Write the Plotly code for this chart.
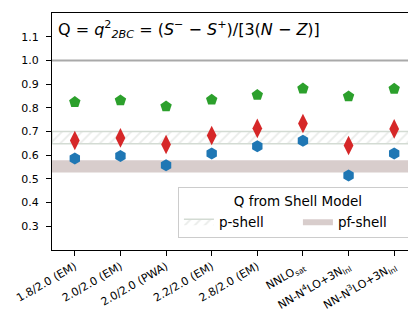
import plotly.graph_objects as go

categories = ["1.8/2.0 (EM)", "2.0/2.0 (EM)", "2.0/2.0 (PWA)", "2.2/2.0 (EM)", "2.8/2.0 (EM)",
              "NNLO<sub>sat</sub>", "NN-N<sup>4</sup>LO+3N<sub>lnl</sub>", "NN-N<sup>3</sup>LO+3N<sub>lnl</sub>"]
green_vals = [0.824, 0.831, 0.806, 0.834, 0.854, 0.881, 0.848, 0.880]
red_vals = [0.662, 0.673, 0.645, 0.683, 0.713, 0.734, 0.641, 0.711]
blue_vals = [0.586, 0.597, 0.558, 0.607, 0.638, 0.661, 0.514, 0.607]
pshell_band = [0.648, 0.700]
pfshell_band = [0.527, 0.579]
ref_line = 1.0
yticks = [0.3, 0.4, 0.5, 0.6, 0.7, 0.8, 0.9, 1.0, 1.1]

n = len(categories)
xs = list(range(n))
xlo, xhi = -0.5, n - 0.5

FONT = "DejaVu Sans, Liberation Sans, sans-serif"
fig = go.Figure()

fig.add_trace(go.Scatter(
    x=[xlo, xhi, xhi, xlo, xlo], y=[pshell_band[0], pshell_band[0], pshell_band[1], pshell_band[1], pshell_band[0]],
    fill="toself", mode="lines", line=dict(color="#d3dbd3", width=1.5),
    fillcolor="white",
    fillpattern=dict(shape="/", fgcolor="#d3d8d3", bgcolor="white", size=7, solidity=0.25),
    name="p-shell", hoverinfo="skip"))
fig.add_trace(go.Scatter(
    x=[xlo, xhi, xhi, xlo, xlo], y=[pfshell_band[0], pfshell_band[0], pfshell_band[1], pfshell_band[1], pfshell_band[0]],
    fill="toself", mode="lines", line=dict(color="#d8cdcc", width=0),
    fillcolor="#d8cdcc", name="pf-shell", hoverinfo="skip"))

fig.add_trace(go.Scatter(x=[xlo, xhi], y=[ref_line, ref_line], mode="lines",
                         line=dict(color="#a9a9a9", width=2), showlegend=False, hoverinfo="skip"))

fig.add_trace(go.Scatter(x=xs, y=green_vals, mode="markers", showlegend=False,
                         marker=dict(symbol="pentagon", size=12, color="#2ca02c")))
fig.add_trace(go.Scatter(x=xs, y=red_vals, mode="markers", showlegend=False,
                         marker=dict(symbol="diamond-tall", size=14, color="#d62728")))
fig.add_trace(go.Scatter(x=xs, y=blue_vals, mode="markers", showlegend=False,
                         marker=dict(symbol="hexagon", size=12, color="#1f77b4")))

fig.add_annotation(xref="paper", yref="y", x=0.01, y=1.13, xanchor="left", yanchor="middle",
                   text="Q = <i>q</i><sup>2</sup><sub><i>2BC</i></sub> = (<i>S</i><sup>−</sup> − <i>S</i><sup>+</sup>)/[3(<i>N</i> − <i>Z</i>)]",
                   showarrow=False, font=dict(family=FONT, size=16, color="black"))

fig.update_layout(
    width=416, height=310,
    margin=dict(l=44, r=7, t=5, b=68, autoexpand=False),
    paper_bgcolor="white", plot_bgcolor="white",
    font=dict(family=FONT, size=11, color="black"),
    legend=dict(
        x=0.345, y=0.264, xanchor="left", yanchor="top",
        orientation="h",
        title=dict(text="Q from Shell Model", side="top center", font=dict(size=13.5)),
        font=dict(size=13.5),
        bordercolor="#cccccc", borderwidth=1, bgcolor="rgba(255,255,255,0.85)",
        itemwidth=30, entrywidth=74, tracegroupgap=0,
    ),
    xaxis=dict(range=[xlo, xhi], tickvals=xs, ticktext=categories, tickangle=-30,
               showgrid=False, zeroline=False, showline=True, linecolor="black", linewidth=1,
               mirror=True, ticks="outside", ticklen=5, tickcolor="black", automargin=False,
               ticklabeloverflow="allow", tickfont=dict(size=11)),
    yaxis=dict(range=[0.2, 1.2], tickvals=yticks, ticktext=[f"{v:.1f}" for v in yticks],
               showgrid=False, zeroline=False, showline=True, linecolor="black", linewidth=1,
               mirror=True, ticks="outside", ticklen=5, tickcolor="black", automargin=False,
               ticklabelstandoff=5, tickfont=dict(size=11)),
)

fig.write_html("out.html")
